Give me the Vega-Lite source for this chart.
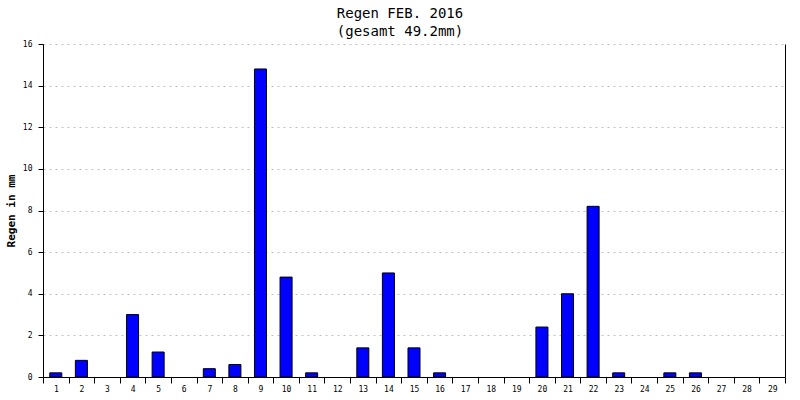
{
  "$schema": "https://vega.github.io/schema/vega-lite/v6.json",
  "autosize": "none",
  "width": 742,
  "height": 333,
  "padding": {"left": 43, "top": 44, "right": 15, "bottom": 23},
  "background": "white",
  "title": {
    "text": ["Regen FEB. 2016", "(gesamt 49.2mm)"],
    "font": "DejaVu Sans Mono",
    "fontSize": 14,
    "fontWeight": "normal",
    "color": "black",
    "anchor": "middle",
    "dx": -14,
    "offset": 1,
    "lineHeight": 18
  },
  "data": {
    "values": [
      {"day": "1", "mm": 0.2}, {"day": "2", "mm": 0.8}, {"day": "3", "mm": 0},
      {"day": "4", "mm": 3.0}, {"day": "5", "mm": 1.2}, {"day": "6", "mm": 0},
      {"day": "7", "mm": 0.4}, {"day": "8", "mm": 0.6}, {"day": "9", "mm": 14.8},
      {"day": "10", "mm": 4.8}, {"day": "11", "mm": 0.2}, {"day": "12", "mm": 0},
      {"day": "13", "mm": 1.4}, {"day": "14", "mm": 5.0}, {"day": "15", "mm": 1.4},
      {"day": "16", "mm": 0.2}, {"day": "17", "mm": 0}, {"day": "18", "mm": 0},
      {"day": "19", "mm": 0}, {"day": "20", "mm": 2.4}, {"day": "21", "mm": 4.0},
      {"day": "22", "mm": 8.2}, {"day": "23", "mm": 0.2}, {"day": "24", "mm": 0},
      {"day": "25", "mm": 0.2}, {"day": "26", "mm": 0.2}, {"day": "27", "mm": 0},
      {"day": "28", "mm": 0}, {"day": "29", "mm": 0}
    ]
  },
  "encoding": {
    "x": {
      "field": "day",
      "type": "ordinal",
      "sort": null,
      "scale": {
        "domain": ["1", "2", "3", "4", "5", "6", "7", "8", "9", "10", "11", "12", "13", "14", "15", "16", "17", "18", "19", "20", "21", "22", "23", "24", "25", "26", "27", "28", "29"],
        "paddingInner": 0,
        "paddingOuter": 0
      },
      "axis": {
        "title": null,
        "labelAngle": 0,
        "tickBand": "extent",
        "labelFont": "DejaVu Sans Mono",
        "labelFontSize": 8,
        "labelColor": "black",
        "domainColor": "black",
        "tickColor": "black",
        "tickSize": 6,
        "labelPadding": 2,
        "grid": false
      }
    },
    "y": {
      "field": "mm",
      "type": "quantitative",
      "scale": {"domain": [0, 16], "nice": false}
    }
  },
  "layer": [
    {
      "transform": [{"filter": "datum.mm > 0"}],
      "mark": {"type": "bar", "width": {"band": 0.47}, "fill": "#0000ff", "stroke": "black", "strokeWidth": 1},
      "encoding": {
        "y": {
          "field": "mm",
          "type": "quantitative",
          "scale": {"domain": [0, 16], "nice": false},
          "axis": {
            "title": "Regen in mm",
            "titleFont": "DejaVu Sans Mono",
            "titleFontSize": 11,
            "titleFontWeight": "bold",
            "titleColor": "black",
            "titlePadding": 6,
            "values": [0, 2, 4, 6, 8, 10, 12, 14, 16],
            "labelFont": "DejaVu Sans Mono",
            "labelFontSize": 8,
            "labelColor": "black",
            "labelPadding": 6,
            "domainColor": "black",
            "tickColor": "black",
            "tickSize": 5,
            "grid": true,
            "gridColor": "#c0c0c0",
            "gridDash": [2, 4]
          }
        }
      }
    },
    {
      "mark": {"type": "bar", "opacity": 0},
      "encoding": {
        "y": {
          "field": "mm",
          "type": "quantitative",
          "scale": {"domain": [0, 16], "nice": false},
          "axis": {
            "orient": "right",
            "title": null,
            "labels": false,
            "ticks": false,
            "grid": false,
            "domainColor": "black"
          }
        }
      }
    }
  ],
  "resolve": {"axis": {"y": "independent"}},
  "config": {
    "view": {"stroke": null}
  }
}
